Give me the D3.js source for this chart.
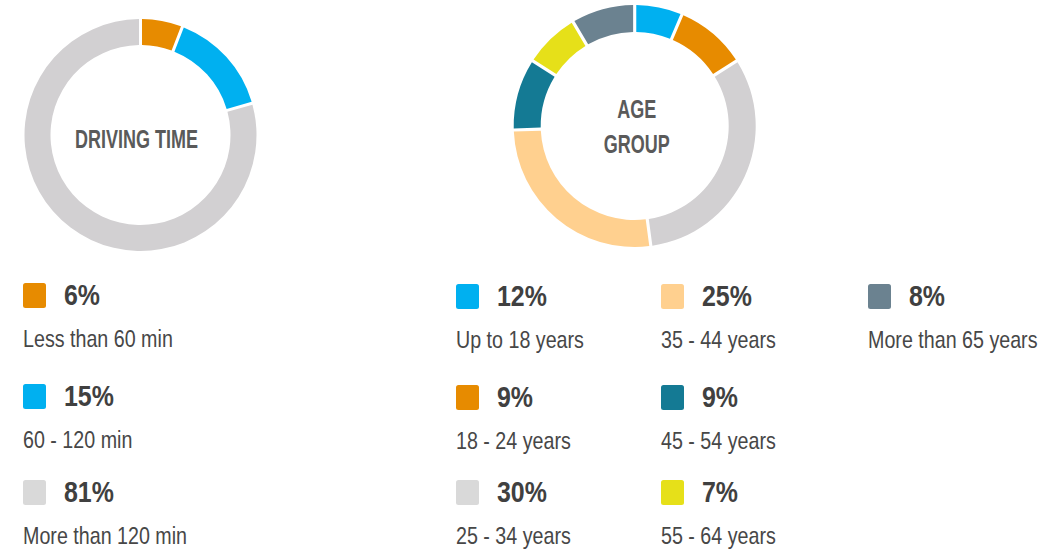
<!DOCTYPE html>
<html>
<head>
<meta charset="utf-8">
<script src="https://cdn.jsdelivr.net/npm/d3@7"></script>
<style>
  html, body { margin: 0; padding: 0; background: #fff; }
  svg text { font-family: "Liberation Sans", Arial, sans-serif; }
</style>
</head>
<body>
<div id="chart"></div>
<script>
// ---- data ----
const driveLabels = ["Less than 60 min", "60 - 120 min", "More than 120 min"];
const drivePct = [6, 15, 81];
const driveColors = ["#e78b00", "#00b0f0", "#d2d0d2"];
const driveKeyColors = ["#e78b00", "#00b0f0", "#d9d9d9"];

const ageLabels = ["Up to 18 years", "18 - 24 years", "25 - 34 years", "35 - 44 years",
                   "45 - 54 years", "55 - 64 years", "More than 65 years"];
const agePct = [12, 9, 30, 25, 9, 7, 8];
// the ring in the picture draws the first slice smaller than its label says
const ageArc = [6, 9, 30, 25, 9, 7, 8];
const ageColors = ["#00b0f0", "#e78b00", "#d2d0d2", "#ffd08f", "#147a94", "#e6e019", "#6b8290"];
const ageKeyColors = ["#00b0f0", "#e78b00", "#d9d9d9", "#ffd08f", "#147a94", "#e6e019", "#6b8290"];

const W = 1063, H = 553;

// no condensed face installed, so squeeze the regular one sideways
const squeezeTitle = 0.72, squeezePct = 0.86, squeezeLabel = 0.82;

const svg = d3.select("#chart")
    .append("svg")
    .attr("width", W)
    .attr("height", H);

const pie = d3.pie().sort(null).value(d => d);

function donut(values, colors, cx, cy, rOut, rIn, title, dx, baseY) {
    const g = svg.append("g").attr("transform", `translate(${cx},${cy})`);
    const arc = d3.arc()
        .innerRadius(rIn)
        .outerRadius(rOut)
        .padAngle(0.026)
        .padRadius(rOut);
    g.selectAll("path")
        .data(pie(values))
        .join("path")
        .attr("d", arc)
        .attr("fill", (d, i) => colors[i]);
    g.selectAll("text.title")
        .data(title)
        .join("text")
        .attr("class", "title")
        .attr("transform", `scale(${squeezeTitle},1)`)
        .attr("text-anchor", "middle")
        .attr("x", dx / squeezeTitle)
        .attr("y", (d, i) => (i - (title.length - 1) / 2) * 36 + baseY)
        .attr("fill", "#5a5a5a")
        .style("font-weight", "bold")
        .style("font-size", "25px")
        .text(d => d);
}

donut(drivePct, driveColors, 140.5, 135, 116, 90, ["DRIVING TIME"], -4, 13);
donut(ageArc, ageColors, 634.7, 126, 121, 94, ["AGE", "GROUP"], 2, 9.5);

function legend(labels, pct, colors, colX, rowY) {
    const items = labels.map((l, i) => ({
        label: l, pct: pct[i], color: colors[i],
        x: colX[Math.floor(i / rowY.length)], y: rowY[i % rowY.length]
    }));
    const it = svg.append("g")
        .selectAll("g.item")
        .data(items)
        .join("g")
        .attr("class", "item")
        .attr("transform", d => `translate(${d.x},${d.y})`);
    it.append("rect")
        .attr("width", 23)
        .attr("height", 25)
        .attr("rx", 2.5)
        .attr("fill", d => d.color);
    it.append("text")
        .attr("transform", `scale(${squeezePct},1)`)
        .attr("x", 41 / squeezePct)
        .attr("y", 22)
        .attr("fill", "#404040")
        .style("font-weight", "bold")
        .style("font-size", "29px")
        .text(d => d.pct + "%");
    it.append("text")
        .attr("transform", `scale(${squeezeLabel},1)`)
        .attr("x", 0)
        .attr("y", 64)
        .attr("fill", "#474747")
        .style("font-size", "24px")
        .text(d => d.label);
}

legend(driveLabels, drivePct, driveKeyColors, [23], [283, 384, 480]);
legend(ageLabels, agePct, ageKeyColors, [456, 661, 868], [284, 385, 480]);
</script>
</body>
</html>
